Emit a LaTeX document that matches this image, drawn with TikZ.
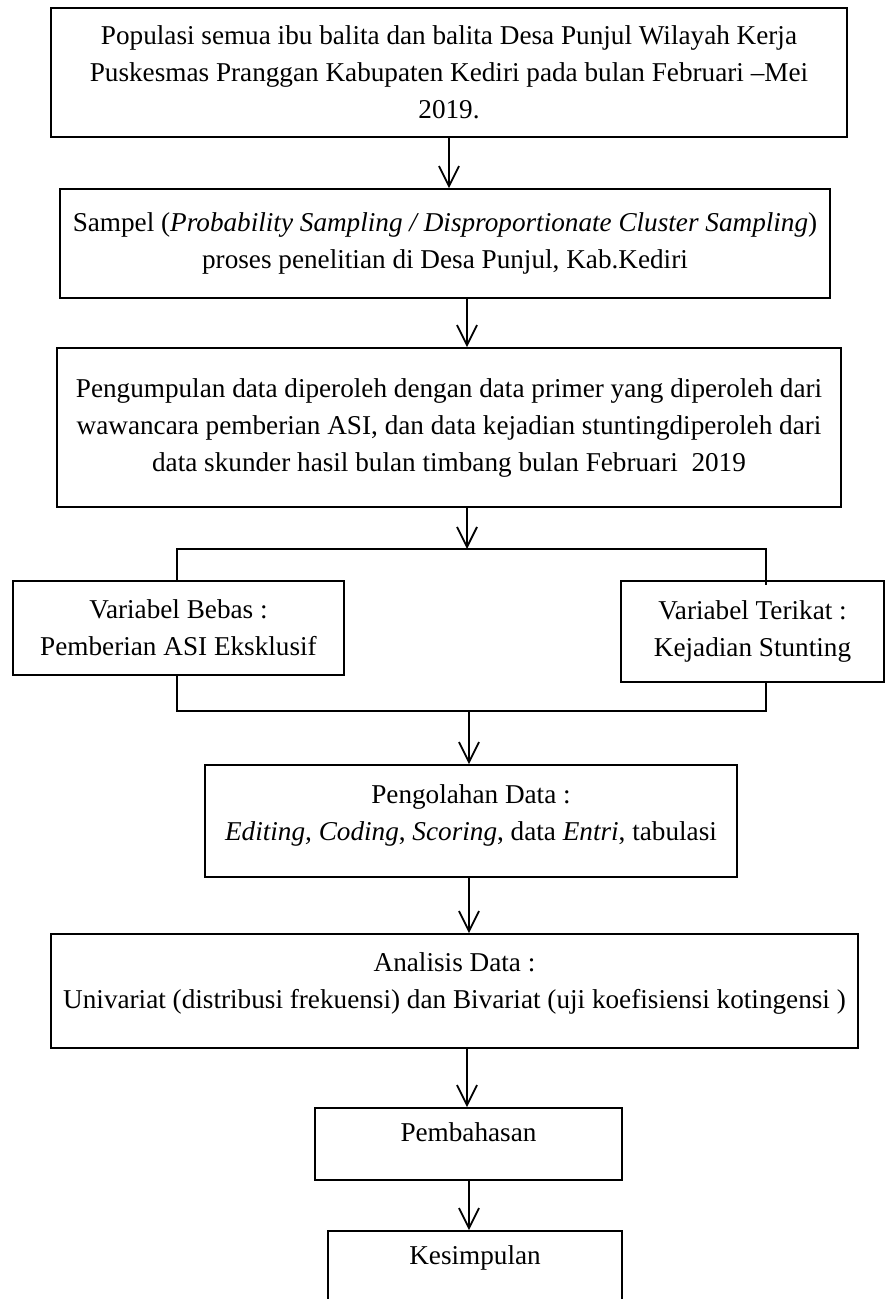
\documentclass[tikz,border=0pt]{standalone}
\usepackage{fontspec}
\setmainfont{Liberation Serif}
\usetikzlibrary{arrows.meta}

\begin{document}
\begin{tikzpicture}[x=0.5pt, y=-0.5pt,
    every node/.style = {shape=rectangle, draw, line width=0.9pt,
      align=center, inner sep=0pt, font=\fontsize{13.6}{18.5}\selectfont},
    arr/.style = {-{Straight Barb[length=10pt, width=10pt]}, line width=0.9pt}]
  \useasboundingbox (0,0) rectangle (894,1299);
  \node[minimum width=398pt, minimum height=64.5pt, line width=1.3pt] (populasi) at (449,72.5)
    {Populasi semua ibu balita dan balita Desa Punjul Wilayah Kerja\\
     Puskesmas Pranggan Kabupaten Kediri pada bulan Februari –Mei\\
     2019.};
  \node[minimum width=385pt, minimum height=54.5pt] (sampel) at (445,243.5)
    {Sampel (\textit{Probability Sampling / Disproportionate Cluster Sampling})\\
     proses penelitian di Desa Punjul, Kab.Kediri};
  \node[minimum width=392pt, minimum height=79.5pt] (pengumpulan) at (449,427.5)
    {Pengumpulan data diperoleh dengan data primer yang diperoleh dari\\
     wawancara pemberian ASI, dan data kejadian stuntingdiperoleh dari\\
     data skunder hasil bulan timbang bulan Februari~ 2019};
  \node[minimum width=165.5pt, minimum height=47pt] (bebas) at (178.5,628)
    {Variabel Bebas :\\ Pemberian ASI Eksklusif};
  \node[minimum width=131.5pt, minimum height=50.5pt] (terikat) at (752.5,631.5)
    {Variabel Terikat :\\ Kejadian Stunting};
  \node[minimum width=266pt, minimum height=56pt, text depth=8pt] (pengolahan) at (471,821)
    {Pengolahan Data :\\
     \textit{Editing, Coding}, \textit{Scoring}, data \textit{Entri}, tabulasi};
  \node[minimum width=403.5pt, minimum height=57pt, text depth=10pt] (analisis) at (454.5,991)
    {Analisis Data :\\
     Univariat (distribusi frekuensi) dan Bivariat (uji koefisiensi kotingensi )};
  \node[minimum width=153.5pt, minimum height=36pt, text depth=12pt] (pembahasan) at (468.5,1144)
    {Pembahasan};
  \node[minimum width=147pt, minimum height=50pt, text depth=26pt] (kesimpulan) at (475,1281)
    {Kesimpulan};

  \coordinate (split) at (467,549);
  \coordinate (ltop) at (177,549);
  \coordinate (rtop) at (766,549);
  \coordinate (merge) at (469,711);
  \coordinate (lbot) at (177,711);
  \coordinate (rbot) at (766,711);

  \draw[arr] (populasi.south) -- (sampel.north -| populasi.south);
  \draw[arr] (sampel.south -| split) -- (pengumpulan.north -| split);
  \draw[arr] (pengumpulan.south -| split) -- (split);
  \draw[line width=0.9pt] (bebas.north -| ltop) -- (ltop) -- (rtop) -- ([yshift=-2.5pt]terikat.north -| rtop);
  \draw[line width=0.9pt] (bebas.south -| lbot) -- (lbot) -- (rbot) -- (terikat.south -| rbot);
  \draw[arr] (merge) -- (pengolahan.north -| merge);
  \draw[arr] (pengolahan.south -| merge) -- (analisis.north -| merge);
  \draw[arr] (analisis.south -| split) -- (pembahasan.north -| split);
  \draw[arr] (pembahasan.south -| merge) -- (kesimpulan.north -| merge);
\end{tikzpicture}
\end{document}
